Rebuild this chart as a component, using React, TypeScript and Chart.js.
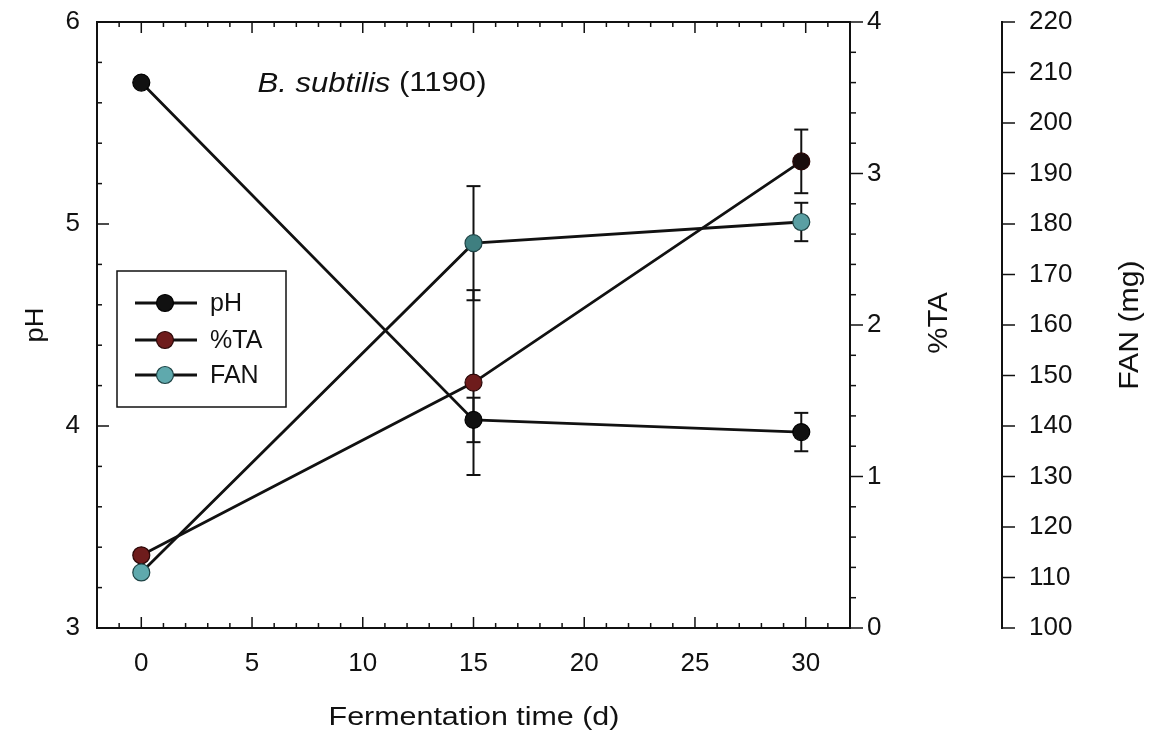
import React, { useEffect, useRef } from "react";
import { Chart, registerables } from "chart.js";

Chart.register(...registerables);

// ---- data ----
const days = [0, 15, 29.8];
const phValues = [5.7, 4.03, 3.97];
const phErrors = [0, 0.11, 0.095];
const taValues = [0.48, 1.62, 3.08];
const taErrors = [0, 0.61, 0.21];
const fanValues = [111.0, 176.2, 180.4];
const fanErrors = [0, 11.3, 3.8];

const seriesNames = ["pH", "%TA", "FAN"];
const seriesColors = ["#111111", "#6e1c1c", "#5fa9ad"];
const seriesBorders = ["#000000", "#2a0808", "#1f4446"];
const taPointColors = ["#6e1c1c", "#6e1c1c", "#1a0d0d"];
const fanPointColors = ["#5fa9ad", "#3f7f80", "#5a9fa3"];

const xTickValues = [0, 5, 10, 15, 20, 25, 30];
const phTickValues = [3, 4, 5, 6];
const taTickValues = [0, 1, 2, 3, 4];
const fanTickValues = [100, 110, 120, 130, 140, 150, 160, 170, 180, 190, 200, 210, 220];

const titleItalic = "B. subtilis";
const titleRest = " (1190)";
const xTitle = "Fermentation time (d)";
const phTitle = "pH";
const taTitle = "%TA";
const fanTitle = "FAN (mg)";

const FONT = '"Liberation Sans", Arial, sans-serif';
const INK = "#111111";

function drawText(
  ctx: CanvasRenderingContext2D,
  text: string,
  x: number,
  y: number,
  size: number,
  sx: number,
  rot: number
) {
  ctx.save();
  ctx.translate(x, y);
  if (rot) ctx.rotate(rot);
  ctx.scale(sx, 1);
  ctx.font = `${size}px ${FONT}`;
  ctx.textAlign = "center";
  ctx.textBaseline = "middle";
  ctx.fillStyle = INK;
  ctx.fillText(text, 0, 0);
  ctx.restore();
}

function line(ctx: CanvasRenderingContext2D, x1: number, y1: number, x2: number, y2: number) {
  ctx.beginPath();
  ctx.moveTo(x1, y1);
  ctx.lineTo(x2, y2);
  ctx.stroke();
}

const errorBarPlugin = {
  id: "errorBars",
  beforeDatasetsDraw(chart: any) {
    const ctx: CanvasRenderingContext2D = chart.ctx;
    const xs = chart.scales.x;
    const sets = [
      { vals: phValues, errs: phErrors, scale: chart.scales.y },
      { vals: taValues, errs: taErrors, scale: chart.scales.y1 },
      { vals: fanValues, errs: fanErrors, scale: chart.scales.y2 },
    ];
    ctx.save();
    ctx.strokeStyle = INK;
    ctx.lineWidth = 2;
    sets.forEach((s) => {
      s.vals.forEach((v, i) => {
        const e = s.errs[i];
        if (!e) return;
        const px = xs.getPixelForValue(days[i]);
        const yt = s.scale.getPixelForValue(v + e);
        const yb = s.scale.getPixelForValue(v - e);
        line(ctx, px, yt, px, yb);
        line(ctx, px - 7, yt, px + 7, yt);
        line(ctx, px - 7, yb, px + 7, yb);
      });
    });
    ctx.restore();
  },
};

const decorPlugin = {
  id: "decor",
  afterDraw(chart: any) {
    const ctx: CanvasRenderingContext2D = chart.ctx;
    const { left, right, top, bottom } = chart.chartArea;
    const xs = chart.scales.x;
    const ys = chart.scales.y;
    const y1 = chart.scales.y1;
    const y2 = chart.scales.y2;
    ctx.save();
    ctx.strokeStyle = INK;
    // top frame
    ctx.lineWidth = 2;
    line(ctx, left, top, right, top);
    ctx.lineWidth = 1.5;
    // x ticks (inside, top and bottom)
    for (let v = Math.ceil(xs.min); v <= xs.max; v++) {
      const px = xs.getPixelForValue(v);
      const len = v % 5 === 0 ? 11 : 5;
      line(ctx, px, bottom, px, bottom - len);
      line(ctx, px, top, px, top + len);
    }
    // pH ticks (inside)
    for (let i = 0; i <= 15; i++) {
      const v = ys.min + i * 0.2;
      const py = ys.getPixelForValue(v);
      const len = i % 5 === 0 ? 12 : 5;
      line(ctx, left, py, left + len, py);
    }
    // %TA ticks (outside)
    for (let i = 0; i <= 20; i++) {
      const v = y1.min + i * 0.2;
      const py = y1.getPixelForValue(v);
      const len = i % 5 === 0 ? 13 : 6;
      line(ctx, right, py, right + len, py);
    }
    // FAN ticks (outside)
    fanTickValues.forEach((v) => {
      const py = y2.getPixelForValue(v);
      line(ctx, y2.left, py, y2.left + 13, py);
    });

    // axis titles
    drawText(ctx, xTitle, 474, 718, 26, 1.17, 0);
    drawText(ctx, phTitle, 36, 325, 26, 1.05, -Math.PI / 2);
    drawText(ctx, taTitle, 939, 323, 28, 1.05, -Math.PI / 2);
    drawText(ctx, fanTitle, 1130, 325, 28, 1.08, -Math.PI / 2);

    // chart title (mixed italic)
    ctx.save();
    const tsize = 27;
    const tsx = 1.15;
    ctx.fillStyle = INK;
    ctx.textBaseline = "middle";
    ctx.textAlign = "left";
    ctx.font = `italic ${tsize}px ${FONT}`;
    const w1 = ctx.measureText(titleItalic).width;
    ctx.font = `${tsize}px ${FONT}`;
    const w2 = ctx.measureText(titleRest).width;
    const total = (w1 + w2) * tsx;
    ctx.translate(372 - total / 2, 84);
    ctx.scale(tsx, 1);
    ctx.font = `italic ${tsize}px ${FONT}`;
    ctx.fillText(titleItalic, 0, 0);
    ctx.font = `${tsize}px ${FONT}`;
    ctx.fillText(titleRest, w1, 0);
    ctx.restore();

    // legend
    ctx.lineWidth = 1.5;
    ctx.strokeStyle = INK;
    ctx.strokeRect(117, 271, 169, 136);
    const rows = [303, 340, 375];
    seriesNames.forEach((name, i) => {
      const yy = rows[i];
      ctx.lineWidth = 2.8;
      ctx.strokeStyle = INK;
      line(ctx, 135, yy, 197, yy);
      ctx.beginPath();
      ctx.arc(165, yy, 8.5, 0, Math.PI * 2);
      ctx.fillStyle = seriesColors[i];
      ctx.fill();
      ctx.lineWidth = 1.2;
      ctx.strokeStyle = seriesBorders[i];
      ctx.stroke();
      ctx.fillStyle = INK;
      ctx.font = `25px ${FONT}`;
      ctx.textAlign = "left";
      ctx.textBaseline = "middle";
      ctx.fillText(name, 210, yy + 1);
    });
    ctx.restore();
  },
};

export default function App() {
  const ref = useRef<HTMLCanvasElement | null>(null);

  useEffect(() => {
    if (!ref.current) return;
    const tickFont = { family: FONT, size: 26 };
    const makeDs = (i: number, vals: number[], axis: string, pointColors?: string[]) => ({
      label: seriesNames[i],
      data: days.map((d, k) => ({ x: d, y: vals[k] })),
      yAxisID: axis,
      borderColor: INK,
      borderWidth: 2.8,
      pointRadius: 8.5,
      pointHoverRadius: 8.5,
      pointBackgroundColor: pointColors || seriesColors[i],
      pointBorderColor: seriesBorders[i],
      pointBorderWidth: 1.2,
      tension: 0,
      fill: false,
    });
    const fitV = (w: number) => (s: any) => {
      s.width = w;
      s.paddingTop = 0;
      s.paddingBottom = 0;
    };
    const chart = new Chart(ref.current, {
      type: "line",
      data: {
        datasets: [
          makeDs(2, fanValues, "y2", fanPointColors),
          makeDs(1, taValues, "y1", taPointColors),
          makeDs(0, phValues, "y"),
        ],
      },
      options: {
        responsive: false,
        animation: false,
        events: [],
        layout: { padding: { top: 22, left: 0, right: 0, bottom: 0 } },
        plugins: {
          legend: { display: false },
          tooltip: { enabled: false },
          title: { display: false },
        },
        scales: {
          x: {
            type: "linear",
            position: "bottom",
            min: -2,
            max: 32,
            afterBuildTicks: (s: any) => {
              s.ticks = xTickValues.map((v) => ({ value: v }));
            },
            afterFit: (s: any) => {
              s.height = 109;
              s.paddingLeft = 0;
              s.paddingRight = 0;
            },
            grid: { display: false, drawTicks: false },
            border: { display: true, color: INK, width: 2 },
            ticks: { font: tickFont, color: INK, padding: 20, maxRotation: 0, autoSkip: false },
          },
          y: {
            type: "linear",
            position: "left",
            min: 3,
            max: 6,
            afterBuildTicks: (s: any) => {
              s.ticks = phTickValues.map((v) => ({ value: v }));
            },
            afterFit: fitV(97),
            grid: { display: false, drawTicks: false },
            border: { display: true, color: INK, width: 2 },
            ticks: { font: tickFont, color: INK, padding: 17 },
          },
          y1: {
            type: "linear",
            position: "right",
            weight: 0,
            min: 0,
            max: 4,
            afterBuildTicks: (s: any) => {
              s.ticks = taTickValues.map((v) => ({ value: v }));
            },
            afterFit: fitV(152),
            grid: { display: false, drawTicks: false },
            border: { display: true, color: INK, width: 2 },
            ticks: { font: tickFont, color: INK, padding: 17 },
          },
          y2: {
            type: "linear",
            position: "right",
            weight: 1,
            min: 100,
            max: 220,
            afterBuildTicks: (s: any) => {
              s.ticks = fanTickValues.map((v) => ({ value: v }));
            },
            afterFit: fitV(151),
            grid: { display: false, drawTicks: false },
            border: { display: true, color: INK, width: 2 },
            ticks: { font: tickFont, color: INK, padding: 27 },
          },
        },
      },
      plugins: [errorBarPlugin, decorPlugin],
    } as any);
    return () => chart.destroy();
  }, []);

  return (
    <div style={{ position: "fixed", left: 0, top: 0, width: 1153, height: 737, background: "#fff" }}>
      <canvas ref={ref} width={1153} height={737} style={{ display: "block" }} />
    </div>
  );
}
